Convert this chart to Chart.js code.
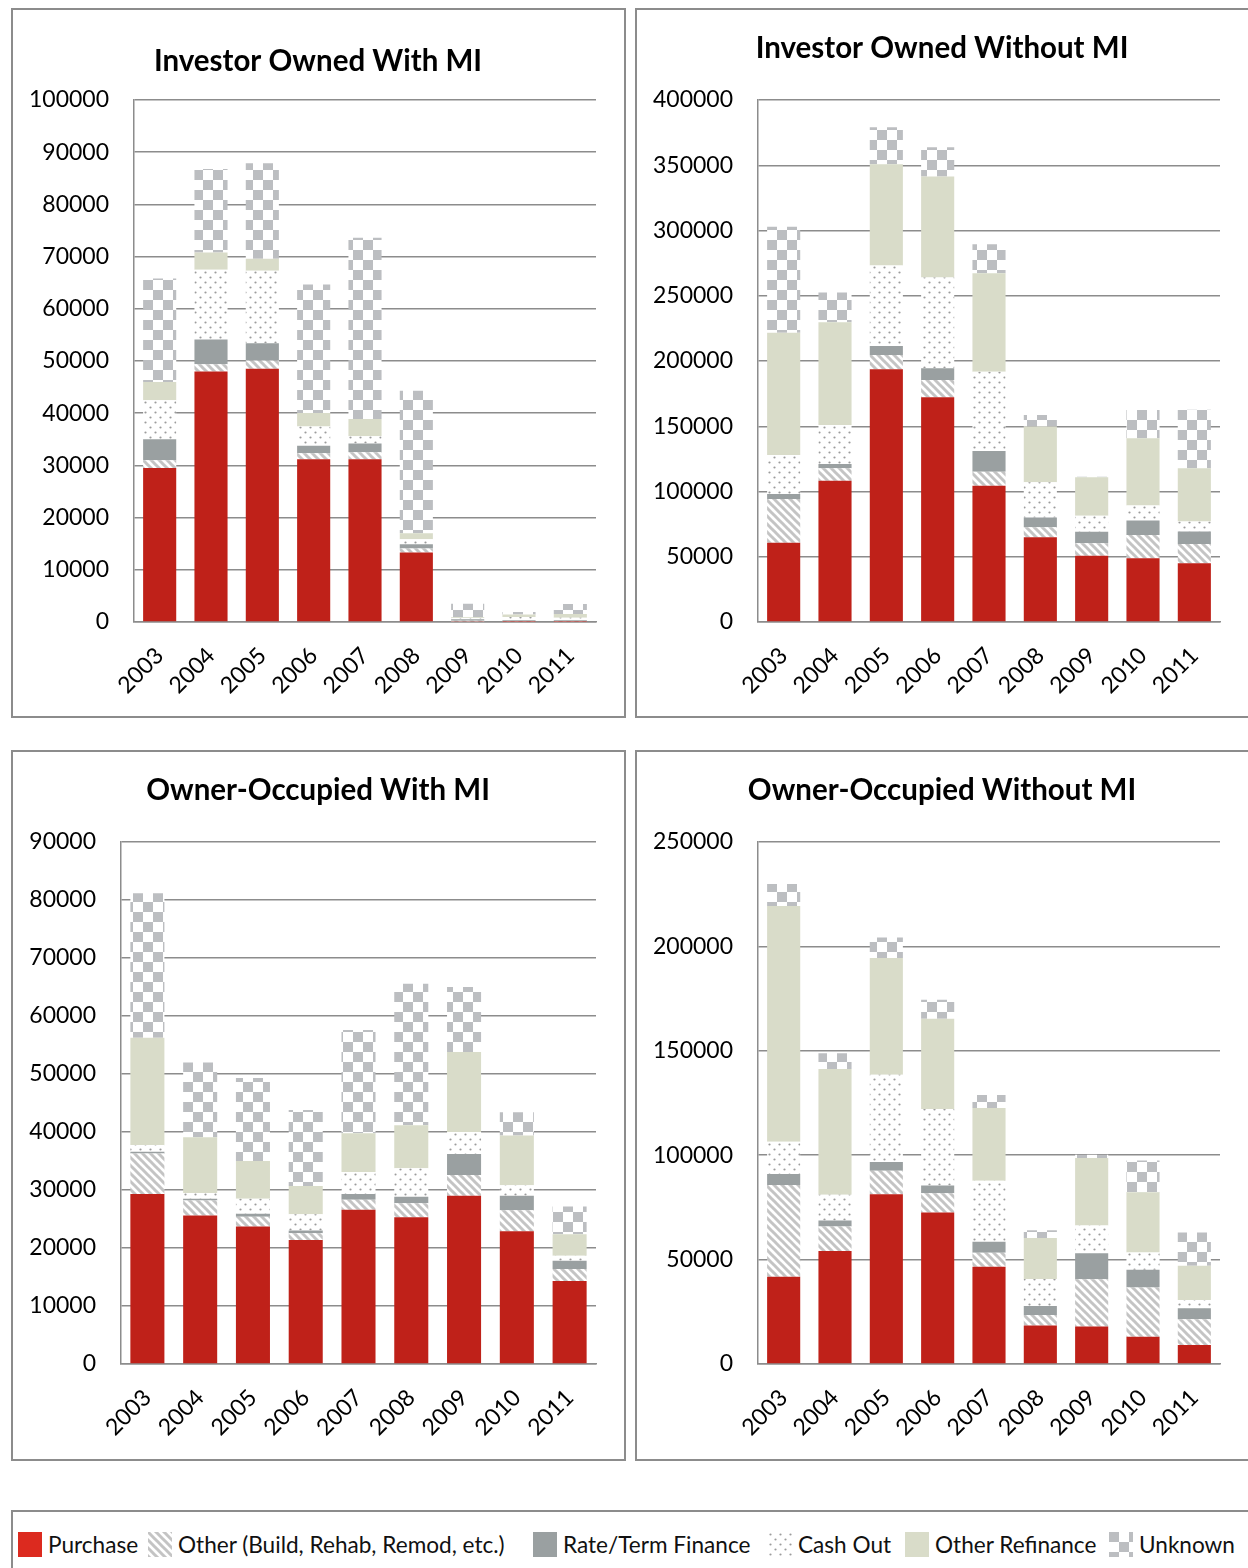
<!DOCTYPE html>
<html>
<head>
<meta charset="utf-8">
<script src="https://cdn.jsdelivr.net/npm/chart.js@4.4.1/dist/chart.umd.min.js"></script>
<style>
  html, body { margin: 0; padding: 0; background: #fff; overflow: hidden; }
  body { width: 1248px; height: 1568px; position: relative; font-family: Lato, "Open Sans", sans-serif; }
  .panel { position: absolute; border: 2px solid #8c8c8c; box-sizing: border-box; }
  .panel canvas { position: absolute; left: 0; top: 0; }
  #legend { position: absolute; left: 11px; top: 1510px; width: 1280px; height: 90px; border: 2px solid #8c8c8c; box-sizing: border-box; }
  .item { position: absolute; top: 20px; height: 25px; display: flex; align-items: center; font-size: 22.6px; color: #111; white-space: nowrap; }
  .swatch { width: 24px; height: 25px; margin-right: 6px; flex: none; }
</style>
</head>
<body>
<div class="panel" style="left:11px; top:8px; width:615px; height:710px;"><canvas id="c1" width="610" height="705"></canvas></div>
<div class="panel" style="left:635px; top:8px; width:640px; height:710px;"><canvas id="c2" width="610" height="705"></canvas></div>
<div class="panel" style="left:11px; top:750px; width:615px; height:711px;"><canvas id="c3" width="610" height="705"></canvas></div>
<div class="panel" style="left:635px; top:750px; width:640px; height:711px;"><canvas id="c4" width="610" height="705"></canvas></div>
<div id="legend"></div>

<script>
const years = ['2003', '2004', '2005', '2006', '2007', '2008', '2009', '2010', '2011'];
const seriesNames = ['Purchase', 'Other (Build, Rehab, Remod, etc.)', 'Rate/Term Finance', 'Cash Out', 'Other Refinance', 'Unknown'];

// Investor Owned With MI
const invMiPurchase  = [29500, 48000, 48500, 31200, 31200, 13300, 100, 50, 50];
const invMiOther     = [1500, 1400, 1600, 1150, 1300, 800, 150, 100, 100];
const invMiRateTerm  = [4000, 4700, 3300, 1400, 1700, 800, 300, 200, 200];
const invMiCashOut   = [7500, 13400, 13900, 3700, 1400, 950, 200, 600, 450];
const invMiOtherRefi = [3500, 3300, 2300, 2600, 3300, 1150, 150, 500, 750];
const invMiUnknown   = [19800, 16000, 18300, 24600, 34700, 27300, 2600, 450, 1900];

// Investor Owned Without MI
const invNoPurchase  = [60800, 108300, 193600, 172200, 104500, 64900, 50800, 48800, 45000];
const invNoOther     = [33500, 9500, 11000, 13300, 10700, 7700, 9500, 17900, 14800];
const invNoRateTerm  = [3800, 3300, 6900, 8900, 15800, 7400, 8900, 11000, 9500];
const invNoCashOut   = [29900, 29900, 61600, 69500, 60800, 27100, 12300, 11500, 7700];
const invNoOtherRefi = [93700, 78700, 77700, 77400, 75400, 42700, 29400, 51600, 40900];
const invNoUnknown   = [81200, 22700, 28400, 22500, 22200, 8900, 400, 21700, 44700];

// Owner-Occupied With MI
const ownMiPurchase  = [29300, 25600, 23700, 21400, 26600, 25300, 29000, 22900, 14300];
const ownMiOther     = [7000, 2600, 1700, 1150, 1700, 2400, 3600, 3600, 2100];
const ownMiRateTerm  = [300, 300, 500, 450, 1000, 1150, 3600, 2500, 1400];
const ownMiCashOut   = [1150, 1000, 2600, 2800, 3800, 4900, 3800, 1800, 850];
const ownMiOtherRefi = [18500, 9600, 6500, 4900, 6700, 7400, 13800, 8600, 3700];
const ownMiUnknown   = [24900, 12900, 14300, 13100, 17800, 24400, 11200, 4000, 4800];

// Owner-Occupied Without MI
const ownNoPurchase  = [41800, 54100, 81300, 72500, 46600, 18400, 17900, 13100, 9100];
const ownNoOther     = [43900, 11700, 11300, 9300, 6700, 5100, 22700, 23500, 12300];
const ownNoRateTerm  = [5300, 2900, 4200, 3700, 5300, 4300, 12400, 8500, 5300];
const ownNoCashOut   = [15500, 12300, 41700, 36600, 29200, 12900, 13300, 8300, 4000];
const ownNoOtherRefi = [112900, 60300, 55900, 43200, 34800, 19600, 32300, 28900, 16300];
const ownNoUnknown   = [10500, 7500, 9900, 9100, 6200, 3800, 1600, 15200, 16000];

// y axis max / step for each panel
const yMax  = [100000, 400000, 90000, 250000];
const yStep = [10000, 50000, 10000, 50000];

Chart.defaults.font.family = 'Lato, "Open Sans", sans-serif';

// small tiles used as bar fills
function makeTile(size, draw) {
    const c = document.createElement('canvas');
    c.width = c.height = size;
    const g = c.getContext('2d');
    g.fillStyle = '#fff';
    g.fillRect(0, 0, size, size);
    draw(g, size);
    return c;
}
const hatchTile = makeTile(8, (g, s) => {
    g.strokeStyle = '#c4c4c4';
    g.lineWidth = 3;
    for (const k of [-s, 0, s]) {
        g.beginPath();
        g.moveTo(-1, k - 1);
        g.lineTo(s + 1, k + s + 1);
        g.stroke();
    }
});
const dotTile = makeTile(10, (g) => {
    g.fillStyle = '#9c9c9c';
    [[2.5, 2.5], [7.5, 7.5]].forEach(([x, y]) => {
        g.beginPath();
        g.arc(x, y, 1.1, 0, Math.PI * 2);
        g.fill();
    });
});
const checkTile = makeTile(20, (g) => {
    g.fillStyle = '#bcbec1';
    g.fillRect(0, 0, 10, 10);
    g.fillRect(10, 10, 10, 10);
});

const pctx = document.createElement('canvas').getContext('2d');
const fills = [
    '#bf2119',
    pctx.createPattern(hatchTile, 'repeat'),
    '#9aa0a1',
    pctx.createPattern(dotTile, 'repeat'),
    '#d9dcc9',
    pctx.createPattern(checkTile, 'repeat')
];
const swatchCss = [
    'background:#dc2a1f',
    'background:url(' + hatchTile.toDataURL() + ')',
    'background:#9aa0a1',
    'background:url(' + dotTile.toDataURL() + ')',
    'background:#d9dcc9',
    'background:url(' + checkTile.toDataURL() + ')'
];

// title drawn centred over the whole panel
const panelTitle = {
    id: 'panelTitle',
    afterDraw(chart, args, opts) {
        const ctx = chart.ctx;
        ctx.save();
        ctx.font = 'bold 29.5px Lato, "Open Sans", sans-serif';
        ctx.fillStyle = '#000';
        ctx.textAlign = 'center';
        ctx.textBaseline = 'middle';
        ctx.fillText(opts.text, chart.width / 2, opts.y);
        ctx.restore();
    }
};

function makeChart(id, title, titleY, axisWidth, series, max, step) {
    return new Chart(document.getElementById(id), {
        type: 'bar',
        data: {
            labels: years,
            datasets: series.map((d, i) => ({
                label: seriesNames[i],
                data: d,
                backgroundColor: fills[i],
                borderWidth: 0,
                barPercentage: 0.645,
                categoryPercentage: 1
            }))
        },
        options: {
            responsive: false,
            animation: false,
            layout: { padding: { top: 90, right: 27, bottom: 0, left: 0 } },
            plugins: {
                legend: { display: false },
                tooltip: { enabled: false },
                panelTitle: { text: title, y: titleY }
            },
            scales: {
                x: {
                    stacked: true,
                    grid: { display: false, drawTicks: false },
                    border: { display: true, color: '#8c8c8c', width: 1.5 },
                    ticks: { minRotation: 45, maxRotation: 45, padding: 20, color: '#000', font: { size: 23 } },
                    afterFit: s => { s.height = 93; }
                },
                y: {
                    stacked: true,
                    min: 0,
                    max: max,
                    grid: { color: '#8c8c8c', lineWidth: 1.5, drawTicks: false },
                    border: { display: true, color: '#8c8c8c', width: 1.5 },
                    ticks: { stepSize: step, padding: 25, color: '#000', font: { size: 23 }, callback: v => String(v) },
                    afterFit: s => { s.width = axisWidth; }
                }
            }
        },
        plugins: [panelTitle]
    });
}

makeChart('c1', 'Investor Owned With MI', 51, 121,
    [invMiPurchase, invMiOther, invMiRateTerm, invMiCashOut, invMiOtherRefi, invMiUnknown], yMax[0], yStep[0]);
makeChart('c2', 'Investor Owned Without MI', 38, 121,
    [invNoPurchase, invNoOther, invNoRateTerm, invNoCashOut, invNoOtherRefi, invNoUnknown], yMax[1], yStep[1]);
makeChart('c3', 'Owner-Occupied With MI', 38, 108,
    [ownMiPurchase, ownMiOther, ownMiRateTerm, ownMiCashOut, ownMiOtherRefi, ownMiUnknown], yMax[2], yStep[2]);
makeChart('c4', 'Owner-Occupied Without MI', 38, 121,
    [ownNoPurchase, ownNoOther, ownNoRateTerm, ownNoCashOut, ownNoOtherRefi, ownNoUnknown], yMax[3], yStep[3]);

// shared legend along the bottom
const legendLeft = [5, 135, 520, 755, 892, 1096];
const legend = document.getElementById('legend');
seriesNames.forEach((name, i) => {
    const item = document.createElement('div');
    item.className = 'item';
    item.style.left = legendLeft[i] + 'px';
    item.innerHTML = '<span class="swatch" style="' + swatchCss[i] + '"></span><span>' + name + '</span>';
    legend.appendChild(item);
});
</script>
</body>
</html>
